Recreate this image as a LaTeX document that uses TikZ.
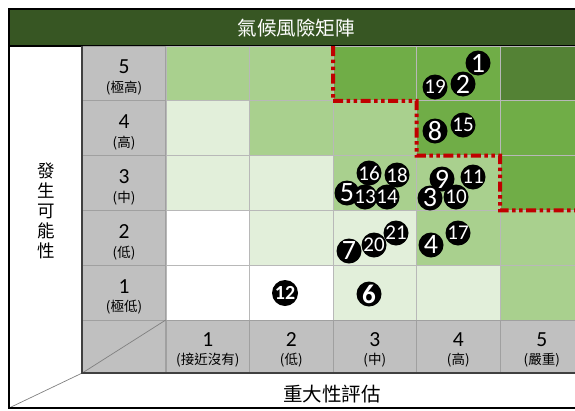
\documentclass[tikz,border=0pt]{standalone}
\usepackage{fontspec}
\setmainfont{Carlito}
\newfontfamily\cjk{Noto Sans CJK TC}
\definecolor{titlegreen}{HTML}{375623}
\definecolor{gW}{HTML}{FFFFFF}
\definecolor{gL}{HTML}{E2EFDA}
\definecolor{gA}{HTML}{A9D08E}
\definecolor{gM}{HTML}{70AD47}
\definecolor{gD}{HTML}{548235}
\definecolor{hdrgray}{HTML}{C0C0C0}
\definecolor{hdrline}{HTML}{A0A0A0}
\definecolor{gridgray}{HTML}{B8B8B8}
\definecolor{darkline}{HTML}{404040}
\definecolor{riskred}{HTML}{C00000}
\begin{document}
\begin{tikzpicture}[x=1pt,y=-1pt,
  cell/.style={draw=gridgray, line width=0.9pt, minimum width=83.5pt, minimum height=54.8pt, inner sep=0pt, outer sep=0pt},
  hdrcell/.style={cell, fill=hdrgray, draw=hdrline},
  numtext/.style={font=\fontsize{21.5}{21.5}\selectfont, inner sep=0pt},
  subtext/.style={font=\cjk\fontsize{13.5}{14}\selectfont, inner sep=0pt},
  bubble/.style={circle, fill=black, minimum size=25pt, inner sep=0pt},
  bnum/.style={text=white, inner sep=0pt, font=\fontsize{28}{28}\selectfont},
  bnumtwo/.style={text=white, inner sep=0pt, font=\fontsize{21}{21}\selectfont},
  riskline/.style={draw=riskred, line width=4pt, line join=miter, dash pattern=on 10pt off 3.5pt on 3.5pt off 3.5pt on 3.5pt off 3.5pt},
  diagline/.style={draw=gray, line width=0.7pt},
  darkrule/.style={draw=darkline, line width=1.8pt},
  frameline/.style={draw=black, line width=1.5pt},
  axislabel/.style={font=\cjk\fontsize{19.5}{20}\selectfont, inner sep=0pt}
]
\useasboundingbox (0,0) rectangle (575,410);
\clip (0,0) rectangle (575,410);

% title bar
\draw[fill=titlegreen, draw=black, line width=1.3pt] (9,9) rectangle (640,46);
\node[axislabel, text=white] (title) at (296,28) {氣候風險矩陣};

% matrix cells
\foreach \r/\colors in {5/{gA,gA,gM,gM,gD},4/{gL,gA,gA,gM,gM},3/{gL,gL,gA,gA,gM},2/{gW,gL,gL,gA,gA},1/{gW,gW,gL,gL,gA}}{
  \foreach \cc [count=\c] in \colors {
    \node[cell, fill=\cc] (r\r-\c) at ({166+83.5*(\c-0.5)}, {46+54.8*(5.5-\r)}) {};
  }
}

% likelihood column
\foreach \r/\lab in {5/極高,4/高,3/中,2/低,1/極低}{
  \node[hdrcell] (v\r) at (124, {46+54.8*(5.5-\r)}) {};
  \node[numtext] (vn\r) at (124, {46+54.8*(5.5-\r)-6.5}) {\r};
  \node[subtext] (vs\r) at (124, {46+54.8*(5.5-\r)+15}) {(\lab)};
}

% severity row
\foreach \c/\lab in {1/接近沒有,2/低,3/中,4/高,5/嚴重}{
  \node[hdrcell, minimum height=53pt] (h\c) at ({166+83.5*(\c-0.5)}, 346.5) {};
  \node[numtext] (hn\c) at ({166+83.5*(\c-0.5)}, 339.5) {\c};
  \node[subtext] (hs\c) at ({166+83.5*(\c-0.5)}, 360.5) {(\lab)};
}
\node[hdrcell, minimum height=53pt] (corner) at (124, 346.5) {};

% diagonals and rules
\coordinate (fbl) at (9,408);
\draw[diagline] (corner.south west) -- (corner.north east);
\draw[diagline] (fbl) -- (corner.south west);
\draw[darkrule] (v5.north west) -- (corner.south west) -- (h5.south east) -- ++(60,0);
\draw[frameline] (9,9) -- (fbl) -- (640,408);

% risk boundary
\draw[riskline] (r5-3.north west) -- (r5-3.south west) -- (r4-4.north west) -- (r4-4.south west)
  -- (r3-5.north west) -- (r3-5.south west) -- (r3-5.south east);

% axis labels
\node[font=\cjk\fontsize{17.5}{20}\selectfont, align=center, inner sep=0pt] (ylab) at (46,211) {發\\生\\可\\能\\性};
\node[axislabel] (xlab) at (332,394) {重大性評估};

% bubbles
\foreach \n/\x/\y in {1/478/63,2/463/84,19/435/87,8/435/131,15/463/125,16/369/173,18/397/175,13/365/197,14/387/197,5/347/193,9/442/179,11/473/177,10/456/197,3/430/198,21/396/233,20/374/245,7/349/251,17/458/233,4/431/245,6/369/294}{
  \node[bubble] (b\n) at (\x,\y) {};
}
\node[bubble, minimum size=26pt] (b12) at (285,293) {};

\foreach \n in {1,2,3,4,5,7,8,9}{
  \node[bnum] (t\n) at (b\n) {\n};
}
\foreach \n in {10,11,13,14,15,16,17,18,19,20,21}{
  \node[bnumtwo] (t\n) at (b\n) {\n};
}
\node[text=white, inner sep=0pt, font=\bfseries\fontsize{27}{27}\selectfont] (t6) at (b6) {6};
\node[text=white, inner sep=0pt, font=\bfseries\fontsize{20}{20}\selectfont] (t12) at (b12) {12};
\end{tikzpicture}
\end{document}
